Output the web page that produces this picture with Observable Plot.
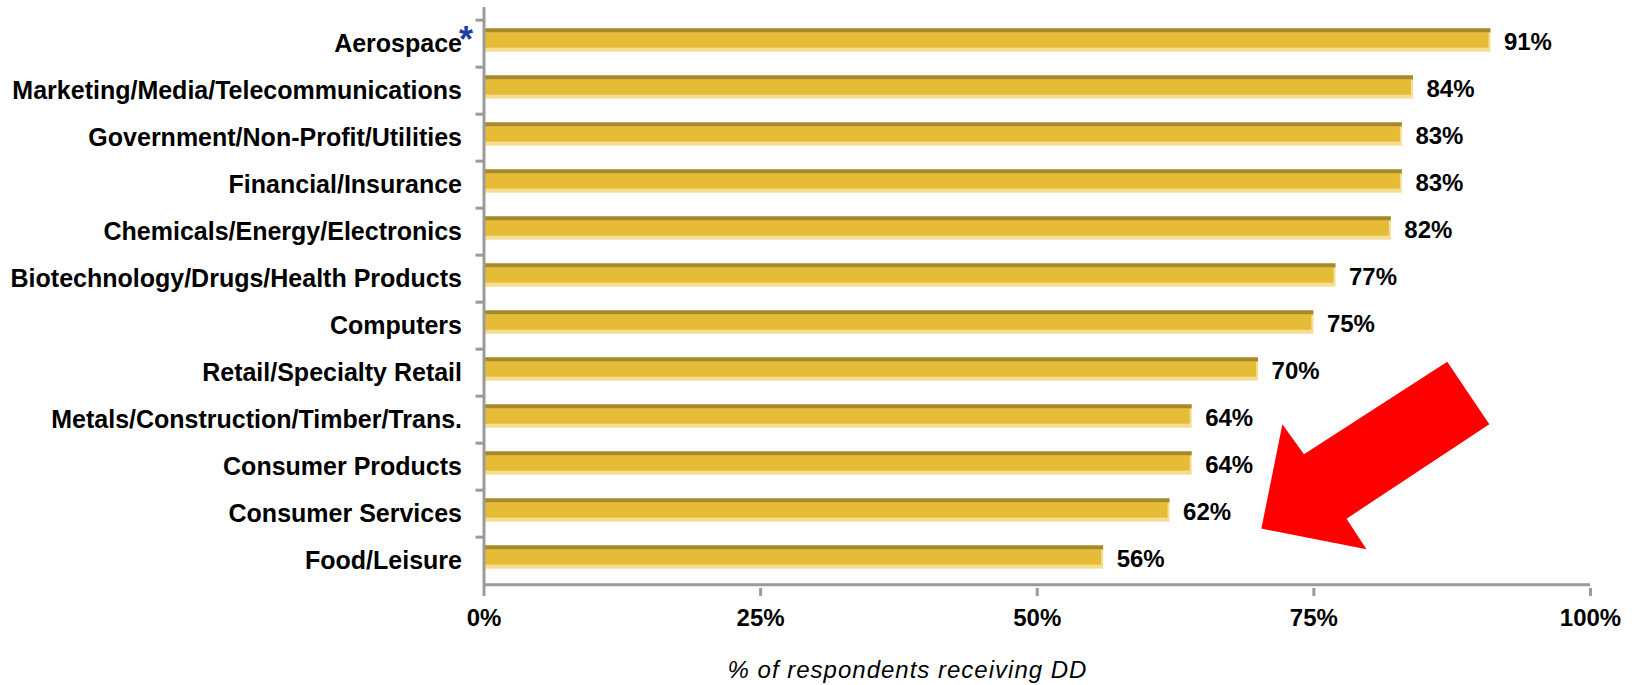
<!DOCTYPE html>
<html>
<head>
<meta charset="utf-8">
<script src="https://cdn.jsdelivr.net/npm/d3@7"></script>
<script src="https://cdn.jsdelivr.net/npm/@observablehq/plot@0.6"></script>
<style>
  html, body { margin: 0; padding: 0; background: #fff; }
  #chart svg { display: block; }
</style>
</head>
<body>
<div id="chart"></div>
<script>
// ---- data ----
const industries = [
  "Aerospace",
  "Marketing/Media/Telecommunications",
  "Government/Non-Profit/Utilities",
  "Financial/Insurance",
  "Chemicals/Energy/Electronics",
  "Biotechnology/Drugs/Health Products",
  "Computers",
  "Retail/Specialty Retail",
  "Metals/Construction/Timber/Trans.",
  "Consumer Products",
  "Consumer Services",
  "Food/Leisure"
];
const shares = [91, 84, 83, 83, 82, 77, 75, 70, 64, 64, 62, 56];
const xTicks = [0, 25, 50, 75, 100];
const xTickLabels = ["0%", "25%", "50%", "75%", "100%"];
const axisTitle = "% of respondents receiving DD";
const footnoteMark = "*";
// highlight arrow vertices: x in % of respondents, y in row units (0 = top of first row)
const arrowPct = [70.3, 72.2, 74.15, 87.1, 90.9, 78.0, 79.8];
const arrowRow = [10.82, 8.6, 9.24, 7.27, 8.6, 10.61, 11.26];

const rows = industries.map((name, i) => ({name, v: shares[i]}));

// ---- layout ----
const W = 1638, H = 685;
const mTop = 16, mBottom = 97, mLeft = 483.5, mRight = 48;
const step = (H - mTop - mBottom) / industries.length;
const grey = "#9b9b9b";

function arrowMark(index, scales) {
  const y0 = scales.y(industries[0]);
  const st = scales.y(industries[1]) - y0;
  const pts = arrowPct.map((p, i) => [scales.x(p), y0 + arrowRow[i] * st]);
  return d3.create("svg:path")
    .attr("d", "M" + pts.map(p => p.join(",")).join("L") + "Z")
    .attr("fill", "#FF0000")
    .node();
}

const chart = Plot.plot({
  width: W,
  height: H,
  marginTop: mTop,
  marginBottom: mBottom,
  marginLeft: mLeft,
  marginRight: mRight,
  style: {fontFamily: "'Liberation Sans', Arial, sans-serif", fontSize: "24px", fontWeight: "bold", color: "#000", background: "#fff"},
  x: {domain: [0, 100]},
  y: {domain: industries, padding: 0},
  marks: [
    // bars: light base, main body, dark top edge
    Plot.barX(rows, {x: "v", y: "name", fill: "#F5DE94", insetTop: 8.3, insetBottom: 15.3}),
    Plot.barX(rows, {x: "v", y: "name", fill: "#E6BC36", insetTop: 12.5, insetBottom: 19.3, insetRight: 2}),
    Plot.barX(rows, {x: "v", y: "name", fill: "#A8892A", insetTop: 8.3, insetBottom: 34.6}),
    // value labels
    Plot.text(rows, {x: "v", y: "name", text: d => d.v + "%", textAnchor: "start", dx: 13, dy: -2, fill: "#000"}),
    // axes lines and ticks
    Plot.ruleX([0], {stroke: grey, strokeWidth: 3, insetTop: -9}),
    Plot.ruleY([industries[industries.length - 1]], {stroke: grey, strokeWidth: 3, dy: step / 2}),
    Plot.ruleY(industries, {x1: 0, x2: 0, insetLeft: -8, dy: -step / 2, stroke: grey, strokeWidth: 3}),
    Plot.axisX(xTicks, {tickSize: 8, tickPadding: 12, stroke: grey, strokeWidth: 3,
      tickFormat: (d, i) => xTickLabels[xTicks.indexOf(d)], label: null, fill: "#000"}),
    Plot.axisY({tickSize: 0, tickPadding: 22, label: null, fill: "#000", fontSize: 25}),
    // footnote asterisk on Aerospace
    Plot.text([industries[0]], {y: d => d, x: () => 0, text: () => footnoteMark, dx: -18, dy: -3.5,
      fill: "#1F3F9F", fontSize: 36, textAnchor: "middle"}),
    // axis title
    Plot.text([axisTitle], {frameAnchor: "bottom", lineAnchor: "middle", text: d => d,
      dx: 907 - (mLeft + (W - mRight)) / 2, dy: 82,
      fontWeight: "normal", fontStyle: "italic", fontSize: 24, fill: "#000"}),
    // highlight arrow
    arrowMark
  ]
});
document.getElementById("chart").appendChild(chart);
// letter spacing for the axis title
chart.querySelectorAll("text").forEach(t => { if (t.textContent === axisTitle) t.setAttribute("letter-spacing", "1px"); });
</script>
</body>
</html>
